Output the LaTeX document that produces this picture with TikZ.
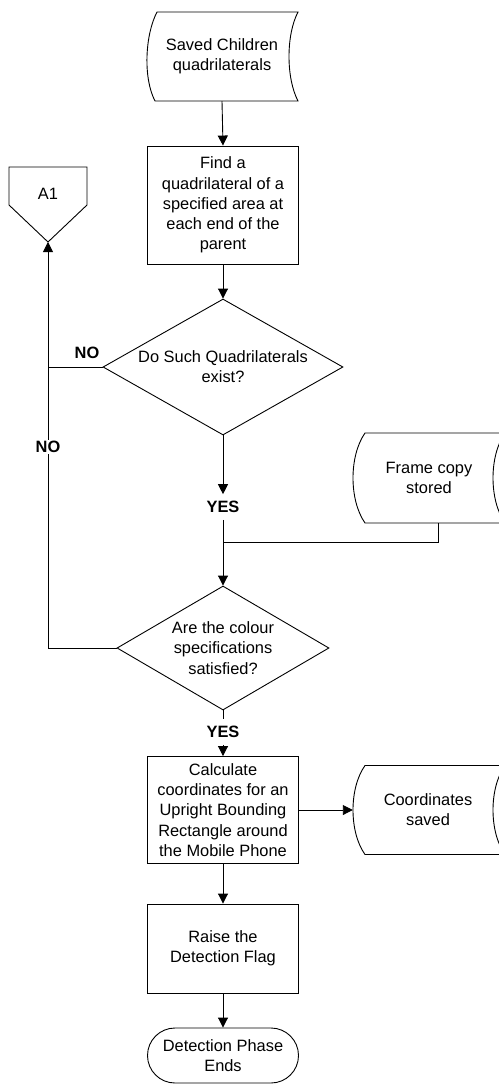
\documentclass[tikz,border=0pt]{standalone}
\usepackage{fontspec}
\setmainfont{Liberation Sans}
\usetikzlibrary{arrows.meta,shapes.geometric,calc}
\begin{document}
\begin{tikzpicture}[x=1pt,y=-1pt,
  every node/.style={font=\fontsize{16.4}{20.2}\selectfont, align=center, inner sep=0pt},
  conn/.style={line width=0.9pt},
  arr/.style={conn, -{Triangle[length=10pt,width=10pt]}},
  procbox/.style={draw, line width=0.9pt, minimum width=151pt},
  decbox/.style={draw, line width=0.9pt, diamond},
  lbl/.style={font=\fontsize{16.4}{20.2}\selectfont\bfseries, outer sep=7pt},
]
\useasboundingbox (0,0) rectangle (498,1084);

% Saved Children (stored data)
\node (sc) [minimum width=150pt, minimum height=89pt] at (222,56.5) {Saved Children\\quadrilaterals};
\draw[conn] (157,12) -- (298,12) .. controls (286,35) and (286,78) .. (298,101) -- (155,101) .. controls (143,78) and (145,35) .. (157,12) -- cycle;

% Find box
\node (find) [procbox, minimum height=118pt] at (223,205) {Find a\\quadrilateral of a\\specified area at\\each end of the\\parent};

% Decision 1
\node (d1) [decbox, minimum width=240pt, minimum height=136pt] at (223,367) {};
\node (d1t) at (d1) {Do Such Quadrilaterals\\exist?};

% YES 1
\node (yes1) [lbl] at (223,507) {YES};
\coordinate (j) at (223,542);

% Decision 2
\node (d2) [decbox, minimum width=212pt, minimum height=124pt] at (223,648) {};
\node (d2t) at (d2) {Are the colour\\specifications\\satisfied?};

% YES 2
\node (yes2) [lbl] at (223,732) {YES};

% Calculate box
\node (calc) [procbox, minimum height=107pt] at (223,810) {Calculate\\coordinates for an\\Upright Bounding\\Rectangle around\\the Mobile Phone};

% Raise box
\node (raise) [procbox, minimum height=89pt] at (223,948.5) {Raise the\\Detection Flag};

% Terminal
\node (term) [draw, line width=0.9pt, minimum width=151pt, minimum height=55pt, rounded corners=27.5pt] at (223,1055.5) {Detection Phase\\Ends};

% Frame copy stored
\node (fc) [minimum width=150pt, minimum height=90pt] at (429,478) {Frame copy\\stored};
\draw[conn] (365,433) -- (505,433) .. controls (489,456) and (489,500) .. (505,523) -- (365,523) .. controls (349,500) and (349,456) .. (365,433) -- cycle;

% Coordinates saved
\node (cs) [minimum width=150pt, minimum height=89pt] at (428,810) {Coordinates\\saved};
\draw[conn] (365,765.5) -- (505,765.5) .. controls (489,788) and (489,832) .. (505,854.5) -- (365,854.5) .. controls (349,832) and (349,788) .. (365,765.5) -- cycle;

% A1 off-page connector
\node (a1) at (48,194) {A1};
\coordinate (a1tip) at (48,242);
\draw[conn] (9,167) -- (87,167) -- (87,205) -- (a1tip) -- (9,205) -- cycle;

% Connectors
\draw[arr] (sc.south) -- (find.north);
\draw[arr] (find.south) -- (d1.north);
\draw[arr] (d1.south) -- (yes1.north);
\draw[arr] (yes1.south) -- (d2.north);
\draw[conn] ([xshift=9pt]fc.south) |- (j);
\draw[conn] (d2.south) -- (yes2.north);
\draw[arr] (yes2.south) -- (calc.north);
\draw[arr] (calc.east) -- (cs.west);
\draw[arr] (calc.south) -- (raise.north);
\draw[arr] (raise.south) -- (term.north);
\draw[arr] (d2.west) -| (a1tip);
\draw[conn] (d1.west) -- (d1.west -| a1tip);

% NO labels
\node (no1) [lbl] at (87,353) {NO};
\node (no2) [lbl, fill=white, inner sep=1pt] at (48,447) {NO};
\end{tikzpicture}
\end{document}
